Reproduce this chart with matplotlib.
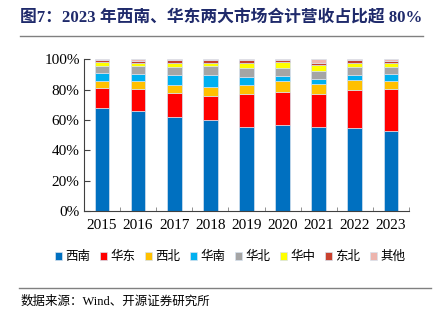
import numpy as np
import matplotlib
matplotlib.use('Agg')
import matplotlib.pyplot as plt
from matplotlib.lines import Line2D

plt.rcParams['font.family'] = ['Liberation Serif', 'Noto Sans CJK SC']

years = ['2015', '2016', '2017', '2018', '2019', '2020', '2021', '2022', '2023']
regions = ['西南', '华东', '西北', '华南', '华北', '华中', '东北', '其他']
colors = ['#0070C0', '#FF0000', '#FFC000', '#00B0F0', '#A5A5A5', '#FFFF00', '#C9412E', '#EDB5AE']

# share of revenue by region, % per year
xinan   = [68.0, 65.6, 61.8, 59.9, 55.5, 56.4, 55.3, 54.4, 52.8]
huadong = [13.0, 14.7, 15.6, 15.8, 21.7, 22.1, 21.9, 25.2, 27.5]
xibei   = [4.7, 5.0, 5.7, 6.1, 5.9, 6.8, 6.4, 6.8, 5.4]
huanan  = [5.3, 5.0, 6.6, 7.5, 4.9, 3.7, 3.4, 3.3, 4.6]
huabei  = [4.6, 4.9, 5.2, 5.9, 6.1, 5.3, 5.3, 5.2, 4.2]
huazhong = [2.4, 2.2, 2.5, 2.4, 3.3, 3.5, 3.8, 2.5, 3.1]
dongbei = [1.3, 1.7, 2.1, 1.7, 2.1, 1.5, 1.3, 1.9, 1.5]
qita    = [0.7, 0.9, 0.5, 0.7, 0.5, 0.7, 2.6, 0.7, 0.9]
series = [xinan, huadong, xibei, huanan, huabei, huazhong, dongbei, qita]

fig = plt.figure(figsize=(4.37, 3.25), dpi=100)
ax = fig.add_axes([0.192, 0.351, 0.744, 0.467])

x = np.arange(len(years))
bottom = np.zeros(len(years))
for name, vals, c in zip(regions, series, colors):
    ax.bar(x, vals, 0.41, bottom=bottom, color=c, label=name,
           edgecolor='#d6e2ee', linewidth=0.5)
    bottom += np.array(vals)

ax.set_xlim(-0.5, 8.5)
ax.set_ylim(0, 100)
ax.set_yticks(range(0, 101, 20))
ax.set_yticklabels([f'{v}%' for v in range(0, 101, 20)], fontsize=11)
ax.set_xticks(x)
ax.set_xticklabels(years, fontsize=11)
ax.tick_params(axis='x', length=0, pad=6)
ax.set_xticks(np.arange(-0.5, 9, 1), minor=True)
ax.tick_params(axis='x', which='minor', direction='in', length=3, color='#808080')
ax.tick_params(axis='y', direction='in', length=4, color='#404040', pad=3)
for s in ['top', 'right']:
    ax.spines[s].set_visible(False)
ax.spines['left'].set_color('#404040')
ax.spines['bottom'].set_color('#404040')

ax.legend(loc='upper center', bbox_to_anchor=(0.45, -0.23), ncol=8, frameon=False,
          fontsize=9, handlelength=0.6, handleheight=0.6, handletextpad=0.25,
          columnspacing=0.75, borderaxespad=0)

fig.text(0.046, 0.945, '图7：2023 年西南、华东两大市场合计营收占比超 80%', fontsize=12.1,
         fontweight='bold', color='#1F2A6B', va='center')
fig.add_artist(Line2D([0.046, 0.968], [0.888, 0.888], color='#808080', lw=1))
fig.add_artist(Line2D([0.044, 0.986], [0.115, 0.115], color='#808080', lw=1))
fig.text(0.046, 0.071, '数据来源：Wind、开源证券研究所', fontsize=9, va='center')

fig.savefig('out.png', dpi=100)
